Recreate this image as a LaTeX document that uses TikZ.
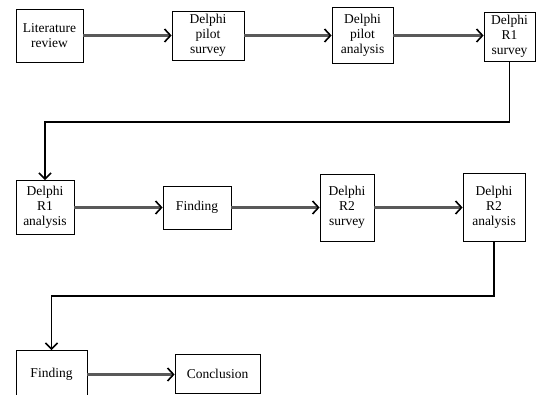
\documentclass[tikz,border=0pt]{standalone}
\usepackage{fontspec}
\setmainfont{Liberation Serif}
\usetikzlibrary{arrows.meta}

\tikzset{
  stage/.style={draw, rectangle, align=center, inner sep=1pt, line width=0.8pt,
    font=\fontsize{13.5}{15}\selectfont},
  flow/.style={line width=3pt, draw=gray!70!black,
    -{Straight Barb[length=6pt, width=13pt, line width=1.6pt, black]}},
  link/.style={line width=1.8pt, draw=black,
    -{Straight Barb[length=6pt, width=12pt, line width=1.6pt]}}
}

\begin{document}
\begin{tikzpicture}[x=1pt, y=-1pt]
    \useasboundingbox (0,0) rectangle (536,395);

    % first row
    \node[stage, minimum width=67pt, minimum height=53pt] (lit) at (49.5,35.5) {Literature\\review};
    \node[stage, minimum width=72pt, minimum height=49pt] (pilotS) at (208,35.5) {Delphi\\pilot\\survey};
    \node[stage, minimum width=61pt, minimum height=56pt] (pilotA) at (362.5,35.5) {Delphi\\pilot\\analysis};
    \node[stage, minimum width=51pt, minimum height=49pt] (roundOneS) at (509.5,36.5) {Delphi\\R1\\survey};

    % second row
    \node[stage, minimum width=58pt, minimum height=54pt] (roundOneA) at (45,207.5) {Delphi\\R1\\analysis};
    \node[stage, minimum width=68pt, minimum height=43pt] (findOne) at (197,207.5) {Finding};
    \node[stage, minimum width=54pt, minimum height=67pt] (roundTwoS) at (347,207.5) {Delphi\\R2\\survey};
    \node[stage, minimum width=62pt, minimum height=68pt] (roundTwoA) at (494,207) {Delphi\\R2\\analysis};

    % last row
    \node[stage, minimum width=71pt, minimum height=48pt] (findTwo) at (51.5,374.5) {Finding};
    \node[stage, minimum width=85pt, minimum height=39pt] (concl) at (217.5,373.5) {Conclusion};

    \draw[flow] (lit.east) -- (lit.east -| pilotS.west);
    \draw[flow] (pilotS.east) -- (pilotS.east -| pilotA.west);
    \draw[flow] (pilotA.east) -- (pilotA.east -| roundOneS.west);
    \draw[link] (roundOneS.south) -- ++(0,61) -| (roundOneA.north);

    \draw[flow] (roundOneA.east) -- (roundOneA.east -| findOne.west);
    \draw[flow] (findOne.east) -- (findOne.east -| roundTwoS.west);
    \draw[flow] (roundTwoS.east) -- (roundTwoS.east -| roundTwoA.west);
    \draw[link] (roundTwoA.south) -- ++(0,55) -| (findTwo.north);

    \draw[flow] (findTwo.east) -- (findTwo.east -| concl.west);
\end{tikzpicture}
\end{document}
